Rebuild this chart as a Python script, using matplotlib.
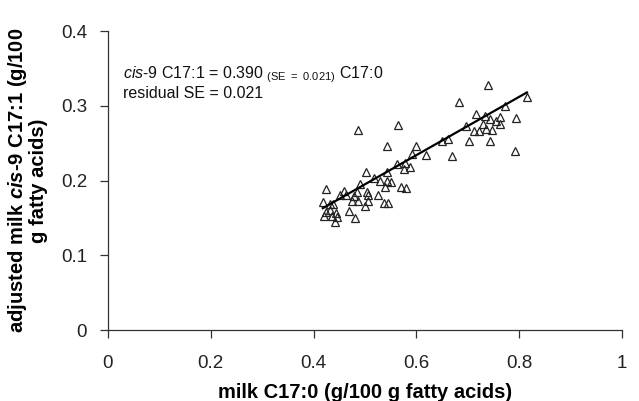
import numpy as np
import matplotlib
matplotlib.use("Agg")
import matplotlib.pyplot as plt

plt.rcParams['font.family'] = ['Liberation Sans', 'DejaVu Sans']
plt.rcParams['mathtext.fontset'] = 'custom'
plt.rcParams['mathtext.rm'] = 'Liberation Sans'
plt.rcParams['mathtext.sf'] = 'Liberation Sans:italic'
plt.rcParams['mathtext.it'] = 'Liberation Sans:bold:italic'

# milk C17:0 (x) vs adjusted milk cis-9 C17:1 (y)
c17_0 = [0.740, 0.815, 0.683, 0.772, 0.716, 0.734, 0.743, 0.763, 0.755, 0.793,
         0.763, 0.697, 0.712, 0.722, 0.735, 0.748, 0.730, 0.702, 0.743, 0.791,
         0.650, 0.661, 0.670, 0.600, 0.591, 0.619, 0.578, 0.565, 0.575, 0.588,
         0.571, 0.579, 0.487, 0.543, 0.562, 0.501, 0.542, 0.517, 0.529, 0.542,
         0.551, 0.539, 0.536, 0.544, 0.425, 0.459, 0.451, 0.464, 0.490, 0.485,
         0.504, 0.479, 0.474, 0.487, 0.506, 0.505, 0.500, 0.525, 0.418, 0.431,
         0.438, 0.424, 0.431, 0.420, 0.435, 0.446, 0.442, 0.468, 0.481, 0.444]
c17_1 = [0.328, 0.312, 0.305, 0.300, 0.289, 0.287, 0.282, 0.285, 0.279, 0.284,
         0.275, 0.273, 0.266, 0.266, 0.269, 0.267, 0.276, 0.253, 0.253, 0.239,
         0.253, 0.255, 0.233, 0.246, 0.235, 0.234, 0.224, 0.274, 0.215, 0.218,
         0.192, 0.190, 0.267, 0.246, 0.222, 0.212, 0.211, 0.203, 0.200, 0.199,
         0.198, 0.192, 0.170, 0.170, 0.189, 0.186, 0.181, 0.181, 0.196, 0.185,
         0.185, 0.179, 0.172, 0.173, 0.181, 0.173, 0.166, 0.180, 0.171, 0.168,
         0.168, 0.158, 0.161, 0.152, 0.153, 0.151, 0.145, 0.159, 0.150, 0.157]

slope = 0.390
slope_se = 0.021
resid_se = 0.021

x = np.array(c17_0)
y = np.array(c17_1)

fig = plt.figure(figsize=(6.39, 4.01), dpi=100)
ax = fig.add_axes([0.169, 0.177, 0.8044, 0.7456])

ax.plot(x, y, '^', ms=5.5, mfc='none', mec='#222222', mew=0.9)
xl = np.array([x.min(), x.max()])
ax.plot(xl, slope * xl, color='black', lw=1.6)

ax.set_xlim(0, 1)
ax.set_ylim(0, 0.4)
ax.set_xticks([0, 0.2, 0.4, 0.6, 0.8, 1])
ax.set_xticklabels(['0', '0.2', '0.4', '0.6', '0.8', '1'])
ax.set_yticks([0, 0.1, 0.2, 0.3, 0.4])
ax.set_yticklabels(['0', '0.1', '0.2', '0.3', '0.4'])
ax.spines['top'].set_visible(False)
ax.spines['right'].set_visible(False)
for s in ['left', 'bottom']:
    ax.spines[s].set_color('#333333')
    ax.spines[s].set_linewidth(0.9)
ax.tick_params(axis='x', direction='out', length=6, width=0.9, color='#333333',
               pad=12, labelsize=13.5, labelcolor='#222222')
ax.tick_params(axis='y', direction='out', length=6, width=0.9, color='#333333',
               pad=9, labelsize=13.5, labelcolor='#222222')

ax.set_xlabel('milk C17:0 (g/100 g fatty acids)', fontsize=14.5, fontweight='bold',
              labelpad=8)
ax.set_ylabel('adjusted milk $\\mathit{cis}$-9 C17:1 (g/100\ng fatty acids)',
              fontsize=14.5, fontweight='bold', labelpad=9, linespacing=1.0)

ax.text(0.03, 0.342, '$\\mathsf{cis}$-9 C17:1 = %.3f $_{\\mathrm{(SE\\ =\\ %.3f)}}$ C17:0'
        % (slope, slope_se), fontsize=11.5, va='center', color='#111111')
ax.text(0.03, 0.317, 'residual SE = %.3f' % resid_se, fontsize=11.5, va='center',
        color='#111111')

plt.savefig('out.png', dpi=100)
